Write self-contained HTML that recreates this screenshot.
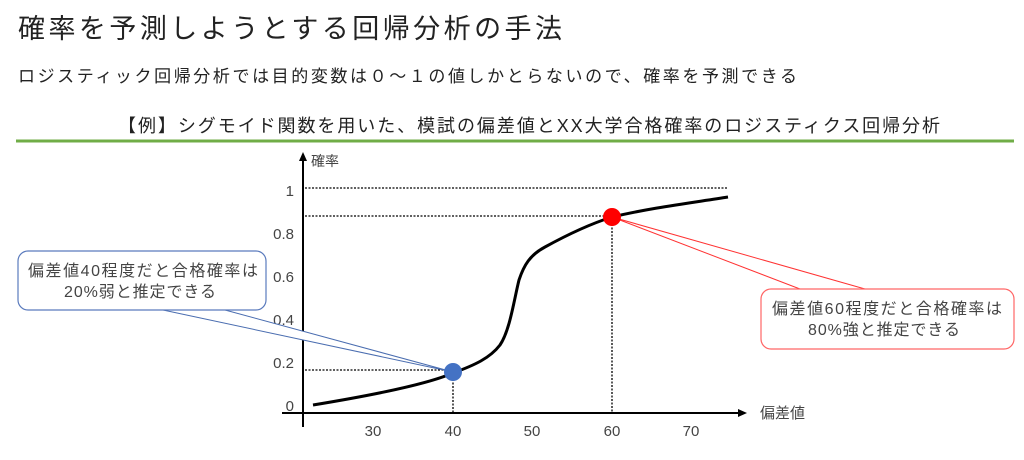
<!DOCTYPE html>
<html><head><meta charset="utf-8"><style>
body{margin:0;width:1024px;height:460px;background:#fff;overflow:hidden;font-family:"Liberation Sans","Noto Sans CJK JP",sans-serif;color:#333}
</style></head><body>
<svg width="1024" height="460" xmlns="http://www.w3.org/2000/svg" style="position:absolute;left:0;top:0;font-family:'Liberation Sans','Noto Sans CJK JP',sans-serif">
<text x="18" y="38" font-size="27" fill="#222" textLength="544" lengthAdjust="spacing">確率を予測しようとする回帰分析の手法</text>
<text x="18" y="82" font-size="17" fill="#222" textLength="779" lengthAdjust="spacing">ロジスティック回帰分析では目的変数は０～１の値しかとらないので、確率を予測できる</text>
<text x="118" y="132" font-size="18" fill="#222" textLength="822" lengthAdjust="spacing">【例】シグモイド関数を用いた、模試の偏差値とXX大学合格確率のロジスティクス回帰分析</text>
<rect x="16" y="139.5" width="998" height="3" fill="#70ad47"/>
<line x1="303" y1="427" x2="303" y2="158" stroke="#000" stroke-width="2"/>
<polygon points="303,152 299,161 307,161" fill="#000"/>
<line x1="282" y1="413" x2="740" y2="413" stroke="#000" stroke-width="2"/>
<polygon points="747,413 738,409 738,417" fill="#000"/>
<text x="311" y="166" font-size="14" fill="#444">確率</text>
<text x="760" y="418" font-size="15" fill="#444">偏差値</text>
<g font-size="15" fill="#444" text-anchor="end">
<text x="294" y="196">1</text><text x="294" y="239">0.8</text><text x="294" y="282">0.6</text>
<text x="294" y="325">0.4</text><text x="294" y="368">0.2</text><text x="294" y="411">0</text>
</g>
<g font-size="15" fill="#444" text-anchor="middle">
<text x="373" y="436">30</text><text x="453" y="436">40</text><text x="532" y="436">50</text><text x="612" y="436">60</text><text x="691" y="436">70</text>
</g>
<g stroke="#000" stroke-width="1.3" stroke-dasharray="2,1.5" fill="none">
<line x1="305" y1="188" x2="728" y2="188"/>
<line x1="305" y1="216" x2="612" y2="216"/>
<line x1="305" y1="370" x2="453" y2="370"/>
<line x1="453" y1="372" x2="453" y2="412"/>
<line x1="612" y1="217" x2="612" y2="412"/>
</g>
<path d="M313,405 C380,394 430,383 453,373 C475,365 490,358 500,345 C510,330 514,300 519,280 C524,265 530,255 545,247 C565,236 590,224 612,217 C650,208 690,203 728,197" stroke="#000" stroke-width="3" fill="none"/>
<path d="M163,310 L453,372 L225,310" stroke="#4a6db0" stroke-width="1" fill="#fff"/>
<rect x="18" y="251" width="248" height="59" rx="10" fill="#fff" stroke="#5b7bbd" stroke-width="1.2"/>
<text x="28" y="276" font-size="16" fill="#444" textLength="230" lengthAdjust="spacing">偏差値40程度だと合格確率は</text>
<text x="64" y="297" font-size="16" fill="#444" textLength="152" lengthAdjust="spacing">20%弱と推定できる</text>
<path d="M800,289 L612,217 L865,289" stroke="#ff3333" stroke-width="1" fill="#fff"/>
<rect x="761" y="289" width="253" height="60" rx="10" fill="#fff" stroke="#ff6666" stroke-width="1.2"/>
<text x="772" y="314" font-size="16" fill="#444" textLength="230" lengthAdjust="spacing">偏差値60程度だと合格確率は</text>
<text x="808" y="335" font-size="16" fill="#444" textLength="152" lengthAdjust="spacing">80%強と推定できる</text>
<circle cx="453" cy="372" r="9" fill="#4472c4"/>
<circle cx="612" cy="217" r="9" fill="#ff0000"/>
</svg>
</body></html>
